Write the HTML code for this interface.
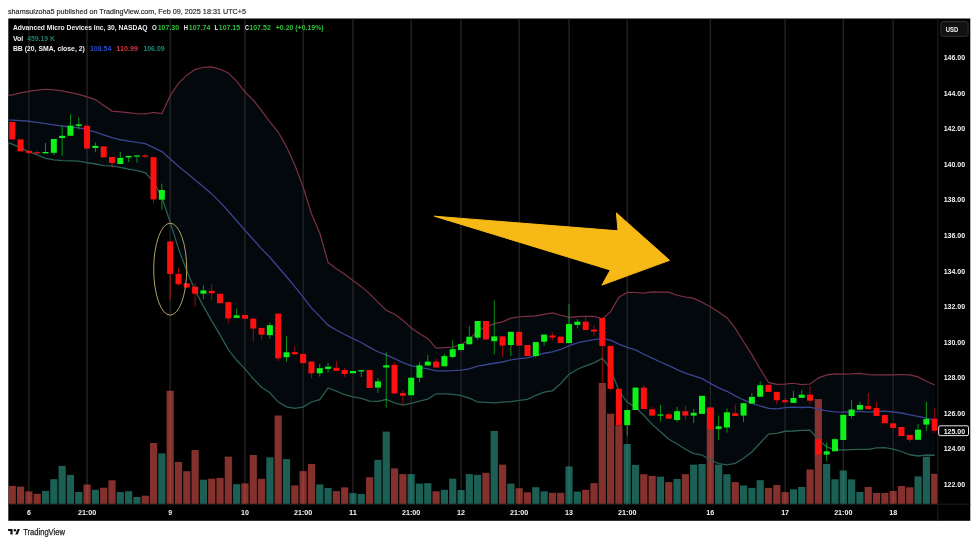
<!DOCTYPE html>
<html><head><meta charset="utf-8"><title>AMD chart</title>
<style>
html,body{margin:0;padding:0;background:#fff;}
body{width:979px;height:545px;position:relative;overflow:hidden;}
.ax{font-family:"Liberation Sans",sans-serif;font-size:7.5px;font-weight:bold;fill:#f4f4f4;}
.lg{font-family:"Liberation Sans",sans-serif;font-size:7.6px;font-weight:bold;fill:#f0f0f0;}
.hd{font-family:"Liberation Sans",sans-serif;font-size:7.6px;fill:#222;stroke:#222;stroke-width:0.15px;}
.lo{font-family:"Liberation Sans",sans-serif;font-size:8.2px;fill:#1e1e1e;stroke:#1e1e1e;stroke-width:0.25px;}
.gn{fill:#2fc23a;}
.tl{fill:#1d7f6e;}
.bl{fill:#2a4cc8;}
.rd{fill:#d2343f;}
.tg{fill:#12907a;}
</style></head><body>
<svg width="979" height="545" viewBox="0 0 979 545" style="position:absolute;left:0;top:0">
<rect x="8.3" y="18.5" width="962" height="502.3" fill="#000"/>
<defs><clipPath id="pane"><rect x="8.3" y="18.5" width="929.5" height="485.7"/></clipPath></defs>
<g clip-path="url(#pane)">
<path d="M8.3 95.68 L12.28 94.79 L20.59 92.94 L28.9 91.3 L37.21 90.21 L45.52 89.25 L53.83 89.96 L62.14 90.79 L70.45 92.62 L78.76 94.45 L87.07 96.86 L95.38 99.6 L103.69 105.43 L112 111.06 L120.31 111.81 L128.62 112.56 L136.93 113.73 L145.24 113.97 L153.55 112.37 L161.86 113.6 L170.17 95.77 L178.48 83.44 L186.79 75.19 L195.1 69.56 L203.41 67.24 L211.72 66.9 L220.03 69.28 L228.34 72.9 L236.65 81.15 L244.96 91.98 L253.27 100.04 L261.58 110.53 L269.89 121.81 L278.2 132 L286.51 146.65 L294.82 164.95 L303.13 187.03 L311.44 213.8 L319.75 233.02 L328.06 262.36 L336.37 268.84 L344.68 274.26 L352.99 280.51 L361.3 286.65 L369.61 293.58 L377.92 302.15 L386.23 310.28 L394.54 314.32 L402.85 320.25 L411.16 327.86 L419.47 333.74 L427.78 338.44 L436.09 348.03 L444.4 347.66 L452.71 346.98 L461.02 344.65 L469.33 339.58 L477.64 330.42 L485.95 327.16 L494.26 323.69 L502.57 321.87 L510.88 318.11 L519.19 316.73 L527.5 316.35 L535.81 315.93 L544.12 314.44 L552.43 312.88 L560.74 315.24 L569.05 317.29 L577.36 316.67 L585.67 316.43 L593.98 316.46 L602.29 318.91 L610.6 311.61 L618.91 297.25 L627.22 292.43 L635.53 292.51 L643.84 293.08 L652.15 291.79 L660.46 292.16 L668.77 292.08 L677.08 295.22 L685.39 297 L693.7 298.39 L702.01 302.24 L710.32 306.74 L718.63 312.04 L726.94 317.7 L735.25 328.45 L743.56 341.73 L751.87 354.67 L760.18 368.97 L768.49 382.46 L776.8 384.3 L785.11 384.19 L793.42 383.24 L801.73 384.58 L810.04 383.99 L818.35 378.12 L826.66 374.9 L834.97 373.97 L843.28 374.13 L851.59 373.85 L859.9 373.35 L868.21 374.67 L876.52 374.8 L884.83 374.87 L893.14 374.93 L901.45 374.49 L909.76 374.9 L918.07 376.93 L926.38 381.32 L934.69 384.95 L934.69 455.24 L926.38 455 L918.07 456 L909.76 454.75 L901.45 451.5 L893.14 449.06 L884.83 447.56 L876.52 447.94 L868.21 449.4 L859.9 449.38 L851.59 449.66 L843.28 449.99 L834.97 449.79 L826.66 446.81 L818.35 439.91 L810.04 430.14 L801.73 430.38 L793.42 431.01 L785.11 431.26 L776.8 433.45 L768.49 434.15 L760.18 443.04 L751.87 451.97 L743.56 458.21 L735.25 463.34 L726.94 464.88 L718.63 463.62 L710.32 460.03 L702.01 455.06 L693.7 453.54 L685.39 449.25 L677.08 444.03 L668.77 439.23 L660.46 431.84 L652.15 424.4 L643.84 415.5 L635.53 407.27 L627.22 402.27 L618.91 390.84 L610.6 368.88 L602.29 358.31 L593.98 362.92 L585.67 365.96 L577.36 369.26 L569.05 374.24 L560.74 383.46 L552.43 390.86 L544.12 392.08 L535.81 395.27 L527.5 399.44 L519.19 400.48 L510.88 401.64 L502.57 402.1 L494.26 402.8 L485.95 402.36 L477.64 401.97 L469.33 398.04 L461.02 395.6 L452.71 394.31 L444.4 393.94 L436.09 393.79 L427.78 399.15 L419.47 401.16 L411.16 403.36 L402.85 405.08 L394.54 402.97 L386.23 399.5 L377.92 401.42 L369.61 401.18 L361.3 398.35 L352.99 396.84 L344.68 394.74 L336.37 391.18 L328.06 387.97 L319.75 399.64 L311.44 401.98 L303.13 407.08 L294.82 408.39 L286.51 406.85 L278.2 402.06 L269.89 392.72 L261.58 387.22 L253.27 378.83 L244.96 368.9 L236.65 360.29 L228.34 349.58 L220.03 334.94 L211.72 320.9 L203.41 306.43 L195.1 290.41 L186.79 270.7 L178.48 248.84 L170.17 222.03 L161.86 197.43 L153.55 181.78 L145.24 172.67 L136.93 170.52 L128.62 169.02 L120.31 167.41 L112 165.88 L103.69 165.66 L95.38 163.99 L87.07 162.52 L78.76 161.17 L70.45 160.94 L62.14 160.56 L53.83 159.88 L45.52 158.32 L37.21 154.82 L28.9 151.81 L20.59 147.82 L12.28 144.04 L8.3 142.8 Z" fill="#02080c"/>
<line x1="28.9" y1="18.5" x2="28.9" y2="504.2" stroke="#262626" stroke-width="1.3"/>
<line x1="87.07" y1="18.5" x2="87.07" y2="504.2" stroke="#262626" stroke-width="1.3"/>
<line x1="170.17" y1="18.5" x2="170.17" y2="504.2" stroke="#262626" stroke-width="1.3"/>
<line x1="244.96" y1="18.5" x2="244.96" y2="504.2" stroke="#262626" stroke-width="1.3"/>
<line x1="303.13" y1="18.5" x2="303.13" y2="504.2" stroke="#262626" stroke-width="1.3"/>
<line x1="352.99" y1="18.5" x2="352.99" y2="504.2" stroke="#262626" stroke-width="1.3"/>
<line x1="411.16" y1="18.5" x2="411.16" y2="504.2" stroke="#262626" stroke-width="1.3"/>
<line x1="461.02" y1="18.5" x2="461.02" y2="504.2" stroke="#262626" stroke-width="1.3"/>
<line x1="519.19" y1="18.5" x2="519.19" y2="504.2" stroke="#262626" stroke-width="1.3"/>
<line x1="569.05" y1="18.5" x2="569.05" y2="504.2" stroke="#262626" stroke-width="1.3"/>
<line x1="627.22" y1="18.5" x2="627.22" y2="504.2" stroke="#262626" stroke-width="1.3"/>
<line x1="710.32" y1="18.5" x2="710.32" y2="504.2" stroke="#262626" stroke-width="1.3"/>
<line x1="785.11" y1="18.5" x2="785.11" y2="504.2" stroke="#262626" stroke-width="1.3"/>
<line x1="843.28" y1="18.5" x2="843.28" y2="504.2" stroke="#262626" stroke-width="1.3"/>
<line x1="893.14" y1="18.5" x2="893.14" y2="504.2" stroke="#262626" stroke-width="1.3"/>
<rect x="8.68" y="485.9" width="7.2" height="18.3" fill="rgba(240,88,82,0.55)"/>
<rect x="16.99" y="486.6" width="7.2" height="17.6" fill="rgba(240,88,82,0.55)"/>
<rect x="25.3" y="491.4" width="7.2" height="12.8" fill="rgba(240,88,82,0.55)"/>
<rect x="33.61" y="493.8" width="7.2" height="10.4" fill="rgba(240,88,82,0.55)"/>
<rect x="41.92" y="490.9" width="7.2" height="13.3" fill="rgba(49,173,155,0.55)"/>
<rect x="50.23" y="479.2" width="7.2" height="25" fill="rgba(49,173,155,0.55)"/>
<rect x="58.54" y="465.9" width="7.2" height="38.3" fill="rgba(49,173,155,0.55)"/>
<rect x="66.85" y="474.9" width="7.2" height="29.3" fill="rgba(49,173,155,0.55)"/>
<rect x="75.16" y="492" width="7.2" height="12.2" fill="rgba(49,173,155,0.55)"/>
<rect x="83.47" y="484.5" width="7.2" height="19.7" fill="rgba(240,88,82,0.55)"/>
<rect x="91.78" y="489.8" width="7.2" height="14.4" fill="rgba(49,173,155,0.55)"/>
<rect x="100.09" y="487.7" width="7.2" height="16.5" fill="rgba(240,88,82,0.55)"/>
<rect x="108.4" y="480.3" width="7.2" height="23.9" fill="rgba(240,88,82,0.55)"/>
<rect x="116.71" y="492" width="7.2" height="12.2" fill="rgba(49,173,155,0.55)"/>
<rect x="125.02" y="491.2" width="7.2" height="13" fill="rgba(49,173,155,0.55)"/>
<rect x="133.33" y="497" width="7.2" height="7.2" fill="rgba(49,173,155,0.55)"/>
<rect x="141.64" y="495.7" width="7.2" height="8.5" fill="rgba(240,88,82,0.55)"/>
<rect x="149.95" y="443" width="7.2" height="61.2" fill="rgba(240,88,82,0.55)"/>
<rect x="158.26" y="453.4" width="7.2" height="50.8" fill="rgba(49,173,155,0.55)"/>
<rect x="166.57" y="390.8" width="7.2" height="113.4" fill="rgba(240,88,82,0.55)"/>
<rect x="174.88" y="461.9" width="7.2" height="42.3" fill="rgba(240,88,82,0.55)"/>
<rect x="183.19" y="471.2" width="7.2" height="33" fill="rgba(240,88,82,0.55)"/>
<rect x="191.5" y="450" width="7.2" height="54.2" fill="rgba(240,88,82,0.55)"/>
<rect x="199.81" y="479.7" width="7.2" height="24.5" fill="rgba(49,173,155,0.55)"/>
<rect x="208.12" y="478.7" width="7.2" height="25.5" fill="rgba(240,88,82,0.55)"/>
<rect x="216.43" y="477.9" width="7.2" height="26.3" fill="rgba(240,88,82,0.55)"/>
<rect x="224.74" y="456.6" width="7.2" height="47.6" fill="rgba(240,88,82,0.55)"/>
<rect x="233.05" y="484.2" width="7.2" height="20" fill="rgba(49,173,155,0.55)"/>
<rect x="241.36" y="483.4" width="7.2" height="20.8" fill="rgba(240,88,82,0.55)"/>
<rect x="249.67" y="455" width="7.2" height="49.2" fill="rgba(240,88,82,0.55)"/>
<rect x="257.98" y="478.8" width="7.2" height="25.4" fill="rgba(240,88,82,0.55)"/>
<rect x="266.29" y="457.3" width="7.2" height="46.9" fill="rgba(49,173,155,0.55)"/>
<rect x="274.6" y="415.5" width="7.2" height="88.7" fill="rgba(240,88,82,0.55)"/>
<rect x="282.91" y="459.1" width="7.2" height="45.1" fill="rgba(49,173,155,0.55)"/>
<rect x="291.22" y="485.4" width="7.2" height="18.8" fill="rgba(240,88,82,0.55)"/>
<rect x="299.53" y="471.1" width="7.2" height="33.1" fill="rgba(240,88,82,0.55)"/>
<rect x="307.84" y="463.9" width="7.2" height="40.3" fill="rgba(240,88,82,0.55)"/>
<rect x="316.15" y="484.4" width="7.2" height="19.8" fill="rgba(49,173,155,0.55)"/>
<rect x="324.46" y="488" width="7.2" height="16.2" fill="rgba(49,173,155,0.55)"/>
<rect x="332.77" y="491.1" width="7.2" height="13.1" fill="rgba(240,88,82,0.55)"/>
<rect x="341.08" y="487.4" width="7.2" height="16.8" fill="rgba(240,88,82,0.55)"/>
<rect x="349.39" y="493.1" width="7.2" height="11.1" fill="rgba(49,173,155,0.55)"/>
<rect x="357.7" y="494" width="7.2" height="10.2" fill="rgba(49,173,155,0.55)"/>
<rect x="366.01" y="477.2" width="7.2" height="27" fill="rgba(240,88,82,0.55)"/>
<rect x="374.32" y="459.8" width="7.2" height="44.4" fill="rgba(49,173,155,0.55)"/>
<rect x="382.63" y="431.6" width="7.2" height="72.6" fill="rgba(49,173,155,0.55)"/>
<rect x="390.94" y="468.4" width="7.2" height="35.8" fill="rgba(240,88,82,0.55)"/>
<rect x="399.25" y="474.1" width="7.2" height="30.1" fill="rgba(240,88,82,0.55)"/>
<rect x="407.56" y="474.1" width="7.2" height="30.1" fill="rgba(49,173,155,0.55)"/>
<rect x="415.87" y="483.6" width="7.2" height="20.6" fill="rgba(49,173,155,0.55)"/>
<rect x="424.18" y="483.2" width="7.2" height="21" fill="rgba(49,173,155,0.55)"/>
<rect x="432.49" y="491.3" width="7.2" height="12.9" fill="rgba(240,88,82,0.55)"/>
<rect x="440.8" y="489.8" width="7.2" height="14.4" fill="rgba(49,173,155,0.55)"/>
<rect x="449.11" y="478.7" width="7.2" height="25.5" fill="rgba(49,173,155,0.55)"/>
<rect x="457.42" y="490" width="7.2" height="14.2" fill="rgba(49,173,155,0.55)"/>
<rect x="465.73" y="474.1" width="7.2" height="30.1" fill="rgba(49,173,155,0.55)"/>
<rect x="474.04" y="474.9" width="7.2" height="29.3" fill="rgba(49,173,155,0.55)"/>
<rect x="482.35" y="472.8" width="7.2" height="31.4" fill="rgba(240,88,82,0.55)"/>
<rect x="490.66" y="430.9" width="7.2" height="73.3" fill="rgba(49,173,155,0.55)"/>
<rect x="498.97" y="464.6" width="7.2" height="39.6" fill="rgba(240,88,82,0.55)"/>
<rect x="507.28" y="483.6" width="7.2" height="20.6" fill="rgba(49,173,155,0.55)"/>
<rect x="515.59" y="488.2" width="7.2" height="16" fill="rgba(240,88,82,0.55)"/>
<rect x="523.9" y="492.3" width="7.2" height="11.9" fill="rgba(240,88,82,0.55)"/>
<rect x="532.21" y="487.2" width="7.2" height="17" fill="rgba(49,173,155,0.55)"/>
<rect x="540.52" y="491.3" width="7.2" height="12.9" fill="rgba(49,173,155,0.55)"/>
<rect x="548.83" y="492.8" width="7.2" height="11.4" fill="rgba(240,88,82,0.55)"/>
<rect x="557.14" y="492.8" width="7.2" height="11.4" fill="rgba(240,88,82,0.55)"/>
<rect x="565.45" y="466.4" width="7.2" height="37.8" fill="rgba(49,173,155,0.55)"/>
<rect x="573.76" y="491.6" width="7.2" height="12.6" fill="rgba(49,173,155,0.55)"/>
<rect x="582.07" y="489.8" width="7.2" height="14.4" fill="rgba(240,88,82,0.55)"/>
<rect x="590.38" y="483.1" width="7.2" height="21.1" fill="rgba(240,88,82,0.55)"/>
<rect x="598.69" y="382.9" width="7.2" height="121.3" fill="rgba(240,88,82,0.55)"/>
<rect x="607" y="413.7" width="7.2" height="90.5" fill="rgba(240,88,82,0.55)"/>
<rect x="615.31" y="425.3" width="7.2" height="78.9" fill="rgba(240,88,82,0.55)"/>
<rect x="623.62" y="444" width="7.2" height="60.2" fill="rgba(49,173,155,0.55)"/>
<rect x="631.93" y="464.9" width="7.2" height="39.3" fill="rgba(49,173,155,0.55)"/>
<rect x="640.24" y="474.2" width="7.2" height="30" fill="rgba(240,88,82,0.55)"/>
<rect x="648.55" y="475.9" width="7.2" height="28.3" fill="rgba(240,88,82,0.55)"/>
<rect x="656.86" y="476.6" width="7.2" height="27.6" fill="rgba(49,173,155,0.55)"/>
<rect x="665.17" y="482.1" width="7.2" height="22.1" fill="rgba(240,88,82,0.55)"/>
<rect x="673.48" y="479" width="7.2" height="25.2" fill="rgba(49,173,155,0.55)"/>
<rect x="681.79" y="474.2" width="7.2" height="30" fill="rgba(240,88,82,0.55)"/>
<rect x="690.1" y="464.7" width="7.2" height="39.5" fill="rgba(49,173,155,0.55)"/>
<rect x="698.41" y="464" width="7.2" height="40.2" fill="rgba(49,173,155,0.55)"/>
<rect x="706.72" y="407.4" width="7.2" height="96.8" fill="rgba(240,88,82,0.55)"/>
<rect x="715.03" y="464.7" width="7.2" height="39.5" fill="rgba(49,173,155,0.55)"/>
<rect x="723.34" y="474.2" width="7.2" height="30" fill="rgba(49,173,155,0.55)"/>
<rect x="731.65" y="482.1" width="7.2" height="22.1" fill="rgba(240,88,82,0.55)"/>
<rect x="739.96" y="485.5" width="7.2" height="18.7" fill="rgba(49,173,155,0.55)"/>
<rect x="748.27" y="487.9" width="7.2" height="16.3" fill="rgba(49,173,155,0.55)"/>
<rect x="756.58" y="480.2" width="7.2" height="24" fill="rgba(49,173,155,0.55)"/>
<rect x="764.89" y="487.9" width="7.2" height="16.3" fill="rgba(240,88,82,0.55)"/>
<rect x="773.2" y="485" width="7.2" height="19.2" fill="rgba(240,88,82,0.55)"/>
<rect x="781.51" y="492.1" width="7.2" height="12.1" fill="rgba(240,88,82,0.55)"/>
<rect x="789.82" y="489.3" width="7.2" height="14.9" fill="rgba(49,173,155,0.55)"/>
<rect x="798.13" y="486.9" width="7.2" height="17.3" fill="rgba(49,173,155,0.55)"/>
<rect x="806.44" y="469.5" width="7.2" height="34.7" fill="rgba(240,88,82,0.55)"/>
<rect x="814.75" y="399.1" width="7.2" height="105.1" fill="rgba(240,88,82,0.55)"/>
<rect x="823.06" y="464" width="7.2" height="40.2" fill="rgba(49,173,155,0.55)"/>
<rect x="831.37" y="479.3" width="7.2" height="24.9" fill="rgba(49,173,155,0.55)"/>
<rect x="839.68" y="470.5" width="7.2" height="33.7" fill="rgba(49,173,155,0.55)"/>
<rect x="847.99" y="479.4" width="7.2" height="24.8" fill="rgba(49,173,155,0.55)"/>
<rect x="856.3" y="492" width="7.2" height="12.2" fill="rgba(49,173,155,0.55)"/>
<rect x="864.61" y="486.9" width="7.2" height="17.3" fill="rgba(240,88,82,0.55)"/>
<rect x="872.92" y="492.9" width="7.2" height="11.3" fill="rgba(240,88,82,0.55)"/>
<rect x="881.23" y="492.9" width="7.2" height="11.3" fill="rgba(240,88,82,0.55)"/>
<rect x="889.54" y="491" width="7.2" height="13.2" fill="rgba(240,88,82,0.55)"/>
<rect x="897.85" y="486" width="7.2" height="18.2" fill="rgba(240,88,82,0.55)"/>
<rect x="906.16" y="487.3" width="7.2" height="16.9" fill="rgba(240,88,82,0.55)"/>
<rect x="914.47" y="476.4" width="7.2" height="27.8" fill="rgba(49,173,155,0.55)"/>
<rect x="922.78" y="456.7" width="7.2" height="47.5" fill="rgba(49,173,155,0.55)"/>
<rect x="931.09" y="473.8" width="7.2" height="30.4" fill="rgba(240,88,82,0.55)"/>
<path d="M8.3 95.68 L12.28 94.79 L20.59 92.94 L28.9 91.3 L37.21 90.21 L45.52 89.25 L53.83 89.96 L62.14 90.79 L70.45 92.62 L78.76 94.45 L87.07 96.86 L95.38 99.6 L103.69 105.43 L112 111.06 L120.31 111.81 L128.62 112.56 L136.93 113.73 L145.24 113.97 L153.55 112.37 L161.86 113.6 L170.17 95.77 L178.48 83.44 L186.79 75.19 L195.1 69.56 L203.41 67.24 L211.72 66.9 L220.03 69.28 L228.34 72.9 L236.65 81.15 L244.96 91.98 L253.27 100.04 L261.58 110.53 L269.89 121.81 L278.2 132 L286.51 146.65 L294.82 164.95 L303.13 187.03 L311.44 213.8 L319.75 233.02 L328.06 262.36 L336.37 268.84 L344.68 274.26 L352.99 280.51 L361.3 286.65 L369.61 293.58 L377.92 302.15 L386.23 310.28 L394.54 314.32 L402.85 320.25 L411.16 327.86 L419.47 333.74 L427.78 338.44 L436.09 348.03 L444.4 347.66 L452.71 346.98 L461.02 344.65 L469.33 339.58 L477.64 330.42 L485.95 327.16 L494.26 323.69 L502.57 321.87 L510.88 318.11 L519.19 316.73 L527.5 316.35 L535.81 315.93 L544.12 314.44 L552.43 312.88 L560.74 315.24 L569.05 317.29 L577.36 316.67 L585.67 316.43 L593.98 316.46 L602.29 318.91 L610.6 311.61 L618.91 297.25 L627.22 292.43 L635.53 292.51 L643.84 293.08 L652.15 291.79 L660.46 292.16 L668.77 292.08 L677.08 295.22 L685.39 297 L693.7 298.39 L702.01 302.24 L710.32 306.74 L718.63 312.04 L726.94 317.7 L735.25 328.45 L743.56 341.73 L751.87 354.67 L760.18 368.97 L768.49 382.46 L776.8 384.3 L785.11 384.19 L793.42 383.24 L801.73 384.58 L810.04 383.99 L818.35 378.12 L826.66 374.9 L834.97 373.97 L843.28 374.13 L851.59 373.85 L859.9 373.35 L868.21 374.67 L876.52 374.8 L884.83 374.87 L893.14 374.93 L901.45 374.49 L909.76 374.9 L918.07 376.93 L926.38 381.32 L934.69 384.95" fill="none" stroke="#7c3044" stroke-width="1.2"/>
<path d="M8.3 119.8 L12.28 120.06 L20.59 120.59 L28.9 121.27 L37.21 122.44 L45.52 123.61 L53.83 124.8 L62.14 126.01 L70.45 127.01 L78.76 127.87 L87.07 129.68 L95.38 132.13 L103.69 134.91 L112 137.7 L120.31 139.76 L128.62 141.11 L136.93 142.36 L145.24 143.62 L153.55 147.54 L161.86 151.55 L170.17 158.9 L178.48 166.14 L186.79 172.94 L195.1 179.98 L203.41 186.83 L211.72 193.9 L220.03 202.11 L228.34 211.24 L236.65 220.72 L244.96 230.44 L253.27 239.44 L261.58 248.88 L269.89 257.26 L278.2 267.03 L286.51 276.75 L294.82 286.67 L303.13 297.06 L311.44 307.89 L319.75 316.33 L328.06 325.17 L336.37 330.01 L344.68 334.5 L352.99 338.68 L361.3 342.5 L369.61 347.38 L377.92 351.78 L386.23 354.89 L394.54 358.64 L402.85 362.66 L411.16 365.61 L419.47 367.45 L427.78 368.8 L436.09 370.91 L444.4 370.8 L452.71 370.65 L461.02 370.12 L469.33 368.81 L477.64 366.19 L485.95 364.76 L494.26 363.25 L502.57 361.99 L510.88 359.88 L519.19 358.61 L527.5 357.9 L535.81 355.6 L544.12 353.26 L552.43 351.87 L560.74 349.35 L569.05 345.77 L577.36 342.97 L585.67 341.2 L593.98 339.69 L602.29 338.61 L610.6 340.24 L618.91 344.04 L627.22 347.35 L635.53 349.89 L643.84 354.29 L652.15 358.1 L660.46 362 L668.77 365.66 L677.08 369.62 L685.39 373.12 L693.7 375.97 L702.01 378.65 L710.32 383.39 L718.63 387.83 L726.94 391.29 L735.25 395.9 L743.56 399.97 L751.87 403.32 L760.18 406 L768.49 408.3 L776.8 408.87 L785.11 407.72 L793.42 407.12 L801.73 407.48 L810.04 407.06 L818.35 409.01 L826.66 410.85 L834.97 411.88 L843.28 412.06 L851.59 411.75 L859.9 411.36 L868.21 412.04 L876.52 411.37 L884.83 411.21 L893.14 412 L901.45 413 L909.76 414.82 L918.07 416.47 L926.38 418.16 L934.69 420.1" fill="none" stroke="#3a4592" stroke-width="1.3"/>
<path d="M8.3 142.8 L12.28 144.04 L20.59 147.82 L28.9 151.81 L37.21 154.82 L45.52 158.32 L53.83 159.88 L62.14 160.56 L70.45 160.94 L78.76 161.17 L87.07 162.52 L95.38 163.99 L103.69 165.66 L112 165.88 L120.31 167.41 L128.62 169.02 L136.93 170.52 L145.24 172.67 L153.55 181.78 L161.86 197.43 L170.17 222.03 L178.48 248.84 L186.79 270.7 L195.1 290.41 L203.41 306.43 L211.72 320.9 L220.03 334.94 L228.34 349.58 L236.65 360.29 L244.96 368.9 L253.27 378.83 L261.58 387.22 L269.89 392.72 L278.2 402.06 L286.51 406.85 L294.82 408.39 L303.13 407.08 L311.44 401.98 L319.75 399.64 L328.06 387.97 L336.37 391.18 L344.68 394.74 L352.99 396.84 L361.3 398.35 L369.61 401.18 L377.92 401.42 L386.23 399.5 L394.54 402.97 L402.85 405.08 L411.16 403.36 L419.47 401.16 L427.78 399.15 L436.09 393.79 L444.4 393.94 L452.71 394.31 L461.02 395.6 L469.33 398.04 L477.64 401.97 L485.95 402.36 L494.26 402.8 L502.57 402.1 L510.88 401.64 L519.19 400.48 L527.5 399.44 L535.81 395.27 L544.12 392.08 L552.43 390.86 L560.74 383.46 L569.05 374.24 L577.36 369.26 L585.67 365.96 L593.98 362.92 L602.29 358.31 L610.6 368.88 L618.91 390.84 L627.22 402.27 L635.53 407.27 L643.84 415.5 L652.15 424.4 L660.46 431.84 L668.77 439.23 L677.08 444.03 L685.39 449.25 L693.7 453.54 L702.01 455.06 L710.32 460.03 L718.63 463.62 L726.94 464.88 L735.25 463.34 L743.56 458.21 L751.87 451.97 L760.18 443.04 L768.49 434.15 L776.8 433.45 L785.11 431.26 L793.42 431.01 L801.73 430.38 L810.04 430.14 L818.35 439.91 L826.66 446.81 L834.97 449.79 L843.28 449.99 L851.59 449.66 L859.9 449.38 L868.21 449.4 L876.52 447.94 L884.83 447.56 L893.14 449.06 L901.45 451.5 L909.76 454.75 L918.07 456 L926.38 455 L934.69 455.24" fill="none" stroke="#2b5e50" stroke-width="1.3"/>
<rect x="9.28" y="122" width="6" height="17.4" fill="#ff1010"/>
<rect x="17.59" y="139.4" width="6" height="12" fill="#ff1010"/>
<line x1="28.9" y1="150.5" x2="28.9" y2="154" stroke="#ff1010" stroke-width="1" stroke-opacity="0.6"/>
<rect x="25.9" y="150.9" width="6" height="2" fill="#ff1010"/>
<line x1="37.21" y1="151" x2="37.21" y2="154" stroke="#ff1010" stroke-width="1" stroke-opacity="0.6"/>
<rect x="34.21" y="152.2" width="6" height="1.2" fill="#ff1010"/>
<line x1="45.52" y1="143" x2="45.52" y2="153.4" stroke="#0ef21a" stroke-width="1" stroke-opacity="0.6"/>
<rect x="42.52" y="152" width="6" height="1.4" fill="#0ef21a"/>
<line x1="53.83" y1="139" x2="53.83" y2="155" stroke="#0ef21a" stroke-width="1" stroke-opacity="0.6"/>
<rect x="50.83" y="139" width="6" height="13.8" fill="#0ef21a"/>
<line x1="62.14" y1="126.2" x2="62.14" y2="156" stroke="#0ef21a" stroke-width="1" stroke-opacity="0.6"/>
<rect x="59.14" y="135.8" width="6" height="2.2" fill="#0ef21a"/>
<line x1="70.45" y1="114.3" x2="70.45" y2="135.8" stroke="#0ef21a" stroke-width="1" stroke-opacity="0.6"/>
<rect x="67.45" y="125.7" width="6" height="10.1" fill="#0ef21a"/>
<line x1="78.76" y1="117.4" x2="78.76" y2="129.4" stroke="#0ef21a" stroke-width="1" stroke-opacity="0.6"/>
<rect x="75.76" y="124.4" width="6" height="1.5" fill="#0ef21a"/>
<rect x="84.07" y="125.7" width="6" height="22.9" fill="#ff1010"/>
<line x1="95.38" y1="142.6" x2="95.38" y2="152.3" stroke="#0ef21a" stroke-width="1" stroke-opacity="0.6"/>
<rect x="92.38" y="145.9" width="6" height="2.1" fill="#0ef21a"/>
<rect x="100.69" y="146.4" width="6" height="11" fill="#ff1010"/>
<line x1="112" y1="157" x2="112" y2="167.5" stroke="#ff1010" stroke-width="1" stroke-opacity="0.6"/>
<rect x="109" y="157" width="6" height="6" fill="#ff1010"/>
<line x1="120.31" y1="152" x2="120.31" y2="164" stroke="#0ef21a" stroke-width="1" stroke-opacity="0.6"/>
<rect x="117.31" y="157.9" width="6" height="6.1" fill="#0ef21a"/>
<line x1="128.62" y1="155.9" x2="128.62" y2="162" stroke="#0ef21a" stroke-width="1" stroke-opacity="0.6"/>
<rect x="125.62" y="155.9" width="6" height="1.5" fill="#0ef21a"/>
<line x1="136.93" y1="155.4" x2="136.93" y2="162.7" stroke="#0ef21a" stroke-width="1" stroke-opacity="0.6"/>
<rect x="133.93" y="155.4" width="6" height="1.2" fill="#0ef21a"/>
<line x1="145.24" y1="154.1" x2="145.24" y2="157.8" stroke="#ff1010" stroke-width="1" stroke-opacity="0.6"/>
<rect x="142.24" y="155.5" width="6" height="1.2" fill="#ff1010"/>
<line x1="153.55" y1="157" x2="153.55" y2="203.4" stroke="#ff1010" stroke-width="1" stroke-opacity="0.6"/>
<rect x="150.55" y="157.2" width="6" height="42.2" fill="#ff1010"/>
<line x1="161.86" y1="183.6" x2="161.86" y2="209.8" stroke="#0ef21a" stroke-width="1" stroke-opacity="0.6"/>
<rect x="158.86" y="190" width="6" height="9.7" fill="#0ef21a"/>
<line x1="170.17" y1="240.5" x2="170.17" y2="299.5" stroke="#ff1010" stroke-width="1" stroke-opacity="0.6"/>
<rect x="167.17" y="241.5" width="6" height="32.4" fill="#ff1010"/>
<line x1="178.48" y1="267.7" x2="178.48" y2="286" stroke="#ff1010" stroke-width="1" stroke-opacity="0.6"/>
<rect x="175.48" y="273.9" width="6" height="10.3" fill="#ff1010"/>
<rect x="183.79" y="283.3" width="6" height="4.2" fill="#ff1010"/>
<line x1="195.1" y1="282.7" x2="195.1" y2="306.9" stroke="#ff1010" stroke-width="1" stroke-opacity="0.6"/>
<rect x="192.1" y="286.7" width="6" height="7" fill="#ff1010"/>
<line x1="203.41" y1="285.5" x2="203.41" y2="299.2" stroke="#0ef21a" stroke-width="1" stroke-opacity="0.6"/>
<rect x="200.41" y="290.4" width="6" height="3.3" fill="#0ef21a"/>
<line x1="211.72" y1="284.2" x2="211.72" y2="300.3" stroke="#ff1010" stroke-width="1" stroke-opacity="0.6"/>
<rect x="208.72" y="290.8" width="6" height="2.5" fill="#ff1010"/>
<rect x="217.03" y="293.7" width="6" height="9.5" fill="#ff1010"/>
<line x1="228.34" y1="302.1" x2="228.34" y2="323.4" stroke="#ff1010" stroke-width="1" stroke-opacity="0.6"/>
<rect x="225.34" y="302.1" width="6" height="16.3" fill="#ff1010"/>
<line x1="236.65" y1="308.5" x2="236.65" y2="318" stroke="#0ef21a" stroke-width="1" stroke-opacity="0.6"/>
<rect x="233.65" y="315.3" width="6" height="2.6" fill="#0ef21a"/>
<rect x="241.96" y="315" width="6" height="3.8" fill="#ff1010"/>
<line x1="253.27" y1="318.6" x2="253.27" y2="341.1" stroke="#ff1010" stroke-width="1" stroke-opacity="0.6"/>
<rect x="250.27" y="318.6" width="6" height="9.9" fill="#ff1010"/>
<line x1="261.58" y1="327.9" x2="261.58" y2="339.6" stroke="#ff1010" stroke-width="1" stroke-opacity="0.6"/>
<rect x="258.58" y="327.9" width="6" height="6.8" fill="#ff1010"/>
<line x1="269.89" y1="322.6" x2="269.89" y2="338.9" stroke="#0ef21a" stroke-width="1" stroke-opacity="0.6"/>
<rect x="266.89" y="325.2" width="6" height="10" fill="#0ef21a"/>
<line x1="278.2" y1="313.6" x2="278.2" y2="360.9" stroke="#ff1010" stroke-width="1" stroke-opacity="0.6"/>
<rect x="275.2" y="313.6" width="6" height="44.7" fill="#ff1010"/>
<line x1="286.51" y1="336.3" x2="286.51" y2="361.6" stroke="#0ef21a" stroke-width="1" stroke-opacity="0.6"/>
<rect x="283.51" y="352.3" width="6" height="4.9" fill="#0ef21a"/>
<line x1="294.82" y1="346.2" x2="294.82" y2="354.3" stroke="#ff1010" stroke-width="1" stroke-opacity="0.6"/>
<rect x="291.82" y="352.1" width="6" height="2.2" fill="#ff1010"/>
<rect x="300.13" y="353.9" width="6" height="9.2" fill="#ff1010"/>
<line x1="311.44" y1="361.6" x2="311.44" y2="378.1" stroke="#ff1010" stroke-width="1" stroke-opacity="0.6"/>
<rect x="308.44" y="361.6" width="6" height="11.7" fill="#ff1010"/>
<line x1="319.75" y1="363.8" x2="319.75" y2="376.6" stroke="#0ef21a" stroke-width="1" stroke-opacity="0.6"/>
<rect x="316.75" y="368.2" width="6" height="5.1" fill="#0ef21a"/>
<line x1="328.06" y1="362.7" x2="328.06" y2="372.6" stroke="#0ef21a" stroke-width="1" stroke-opacity="0.6"/>
<rect x="325.06" y="366.7" width="6" height="2.2" fill="#0ef21a"/>
<line x1="336.37" y1="360.9" x2="336.37" y2="370.8" stroke="#ff1010" stroke-width="1" stroke-opacity="0.6"/>
<rect x="333.37" y="367.8" width="6" height="3" fill="#ff1010"/>
<line x1="344.68" y1="368.2" x2="344.68" y2="377" stroke="#ff1010" stroke-width="1" stroke-opacity="0.6"/>
<rect x="341.68" y="370" width="6" height="4" fill="#ff1010"/>
<rect x="349.99" y="371" width="6" height="2.3" fill="#0ef21a"/>
<line x1="361.3" y1="370" x2="361.3" y2="377" stroke="#0ef21a" stroke-width="1" stroke-opacity="0.6"/>
<rect x="358.3" y="370.2" width="6" height="1.3" fill="#0ef21a"/>
<rect x="366.61" y="370" width="6" height="18" fill="#ff1010"/>
<line x1="377.92" y1="378.1" x2="377.92" y2="393" stroke="#0ef21a" stroke-width="1" stroke-opacity="0.6"/>
<rect x="374.92" y="381.4" width="6" height="6.2" fill="#0ef21a"/>
<line x1="386.23" y1="352.1" x2="386.23" y2="407.8" stroke="#0ef21a" stroke-width="1" stroke-opacity="0.6"/>
<rect x="383.23" y="365.3" width="6" height="2.2" fill="#0ef21a"/>
<line x1="394.54" y1="362.7" x2="394.54" y2="393.5" stroke="#ff1010" stroke-width="1" stroke-opacity="0.6"/>
<rect x="391.54" y="364.9" width="6" height="28.6" fill="#ff1010"/>
<line x1="402.85" y1="390.2" x2="402.85" y2="405" stroke="#ff1010" stroke-width="1" stroke-opacity="0.6"/>
<rect x="399.85" y="393.1" width="6" height="2.6" fill="#ff1010"/>
<rect x="408.16" y="377.7" width="6" height="17.6" fill="#0ef21a"/>
<line x1="419.47" y1="362.2" x2="419.47" y2="382.1" stroke="#0ef21a" stroke-width="1" stroke-opacity="0.6"/>
<rect x="416.47" y="365.3" width="6" height="12.4" fill="#0ef21a"/>
<line x1="427.78" y1="355" x2="427.78" y2="365.5" stroke="#0ef21a" stroke-width="1" stroke-opacity="0.6"/>
<rect x="424.78" y="361.6" width="6" height="3.9" fill="#0ef21a"/>
<line x1="436.09" y1="358.9" x2="436.09" y2="367.5" stroke="#ff1010" stroke-width="1" stroke-opacity="0.6"/>
<rect x="433.09" y="361.6" width="6" height="5.9" fill="#ff1010"/>
<line x1="444.4" y1="353.9" x2="444.4" y2="366.3" stroke="#0ef21a" stroke-width="1" stroke-opacity="0.6"/>
<rect x="441.4" y="356.1" width="6" height="10.2" fill="#0ef21a"/>
<line x1="452.71" y1="340.3" x2="452.71" y2="358.3" stroke="#0ef21a" stroke-width="1" stroke-opacity="0.6"/>
<rect x="449.71" y="349.2" width="6" height="7.7" fill="#0ef21a"/>
<rect x="458.02" y="343.9" width="6" height="6.1" fill="#0ef21a"/>
<line x1="469.33" y1="325.8" x2="469.33" y2="344.3" stroke="#0ef21a" stroke-width="1" stroke-opacity="0.6"/>
<rect x="466.33" y="336.8" width="6" height="7.5" fill="#0ef21a"/>
<line x1="477.64" y1="321" x2="477.64" y2="339.9" stroke="#0ef21a" stroke-width="1" stroke-opacity="0.6"/>
<rect x="474.64" y="321" width="6" height="16.7" fill="#0ef21a"/>
<rect x="482.95" y="321" width="6" height="18.5" fill="#ff1010"/>
<line x1="494.26" y1="300.3" x2="494.26" y2="354.4" stroke="#0ef21a" stroke-width="1" stroke-opacity="0.6"/>
<rect x="491.26" y="336.4" width="6" height="4.8" fill="#0ef21a"/>
<line x1="502.57" y1="336.4" x2="502.57" y2="357.1" stroke="#ff1010" stroke-width="1" stroke-opacity="0.6"/>
<rect x="499.57" y="336.4" width="6" height="9.2" fill="#ff1010"/>
<line x1="510.88" y1="331.8" x2="510.88" y2="356" stroke="#0ef21a" stroke-width="1" stroke-opacity="0.6"/>
<rect x="507.88" y="331.8" width="6" height="13.2" fill="#0ef21a"/>
<rect x="516.19" y="331.8" width="6" height="13.8" fill="#ff1010"/>
<rect x="524.5" y="345" width="6" height="11" fill="#ff1010"/>
<line x1="535.81" y1="342.1" x2="535.81" y2="357.5" stroke="#0ef21a" stroke-width="1" stroke-opacity="0.6"/>
<rect x="532.81" y="342.1" width="6" height="13.9" fill="#0ef21a"/>
<line x1="544.12" y1="334.6" x2="544.12" y2="345.6" stroke="#0ef21a" stroke-width="1" stroke-opacity="0.6"/>
<rect x="541.12" y="334.6" width="6" height="7.1" fill="#0ef21a"/>
<line x1="552.43" y1="332.3" x2="552.43" y2="340.4" stroke="#ff1010" stroke-width="1" stroke-opacity="0.6"/>
<rect x="549.43" y="335.5" width="6" height="2" fill="#ff1010"/>
<rect x="557.74" y="336.6" width="6" height="6.5" fill="#ff1010"/>
<line x1="569.05" y1="304.1" x2="569.05" y2="343.1" stroke="#0ef21a" stroke-width="1" stroke-opacity="0.6"/>
<rect x="566.05" y="324" width="6" height="19.1" fill="#0ef21a"/>
<line x1="577.36" y1="319" x2="577.36" y2="328.4" stroke="#0ef21a" stroke-width="1" stroke-opacity="0.6"/>
<rect x="574.36" y="321.7" width="6" height="3.2" fill="#0ef21a"/>
<line x1="585.67" y1="316.7" x2="585.67" y2="329.9" stroke="#ff1010" stroke-width="1" stroke-opacity="0.6"/>
<rect x="582.67" y="321.7" width="6" height="8.2" fill="#ff1010"/>
<line x1="593.98" y1="325.6" x2="593.98" y2="335.8" stroke="#ff1010" stroke-width="1" stroke-opacity="0.6"/>
<rect x="590.98" y="329.6" width="6" height="1.9" fill="#ff1010"/>
<line x1="602.29" y1="318" x2="602.29" y2="382.6" stroke="#ff1010" stroke-width="1" stroke-opacity="0.6"/>
<rect x="599.29" y="318" width="6" height="27.9" fill="#ff1010"/>
<line x1="610.6" y1="345.9" x2="610.6" y2="390.9" stroke="#ff1010" stroke-width="1" stroke-opacity="0.6"/>
<rect x="607.6" y="345.9" width="6" height="42.9" fill="#ff1010"/>
<rect x="615.91" y="388.8" width="6" height="36.4" fill="#ff1010"/>
<line x1="627.22" y1="410" x2="627.22" y2="435.5" stroke="#0ef21a" stroke-width="1" stroke-opacity="0.6"/>
<rect x="624.22" y="410" width="6" height="15.2" fill="#0ef21a"/>
<rect x="632.53" y="387.6" width="6" height="22.4" fill="#0ef21a"/>
<line x1="643.84" y1="385" x2="643.84" y2="409" stroke="#ff1010" stroke-width="1" stroke-opacity="0.6"/>
<rect x="640.84" y="387.6" width="6" height="21.4" fill="#ff1010"/>
<line x1="652.15" y1="406.8" x2="652.15" y2="415.6" stroke="#ff1010" stroke-width="1" stroke-opacity="0.6"/>
<rect x="649.15" y="409.3" width="6" height="6.3" fill="#ff1010"/>
<line x1="660.46" y1="405" x2="660.46" y2="421.6" stroke="#0ef21a" stroke-width="1" stroke-opacity="0.6"/>
<rect x="657.46" y="414.5" width="6" height="1.2" fill="#0ef21a"/>
<line x1="668.77" y1="412.8" x2="668.77" y2="418.7" stroke="#ff1010" stroke-width="1" stroke-opacity="0.6"/>
<rect x="665.77" y="414.3" width="6" height="4.4" fill="#ff1010"/>
<line x1="677.08" y1="406.8" x2="677.08" y2="422.2" stroke="#0ef21a" stroke-width="1" stroke-opacity="0.6"/>
<rect x="674.08" y="411.2" width="6" height="8.8" fill="#0ef21a"/>
<line x1="685.39" y1="405.5" x2="685.39" y2="420.5" stroke="#ff1010" stroke-width="1" stroke-opacity="0.6"/>
<rect x="682.39" y="411.2" width="6" height="4.4" fill="#ff1010"/>
<line x1="693.7" y1="409" x2="693.7" y2="423.1" stroke="#0ef21a" stroke-width="1" stroke-opacity="0.6"/>
<rect x="690.7" y="412.8" width="6" height="2.8" fill="#0ef21a"/>
<rect x="699.01" y="395.8" width="6" height="18.1" fill="#0ef21a"/>
<rect x="707.32" y="407.7" width="6" height="21.6" fill="#ff1010"/>
<line x1="718.63" y1="415.6" x2="718.63" y2="439.9" stroke="#0ef21a" stroke-width="1" stroke-opacity="0.6"/>
<rect x="715.63" y="426.4" width="6" height="2.5" fill="#0ef21a"/>
<line x1="726.94" y1="408.4" x2="726.94" y2="432.6" stroke="#0ef21a" stroke-width="1" stroke-opacity="0.6"/>
<rect x="723.94" y="412.3" width="6" height="15.2" fill="#0ef21a"/>
<line x1="735.25" y1="404.6" x2="735.25" y2="416.1" stroke="#ff1010" stroke-width="1" stroke-opacity="0.6"/>
<rect x="732.25" y="413.2" width="6" height="2.9" fill="#ff1010"/>
<line x1="743.56" y1="403.2" x2="743.56" y2="422.2" stroke="#0ef21a" stroke-width="1" stroke-opacity="0.6"/>
<rect x="740.56" y="403.2" width="6" height="12.4" fill="#0ef21a"/>
<line x1="751.87" y1="393" x2="751.87" y2="403.5" stroke="#0ef21a" stroke-width="1" stroke-opacity="0.6"/>
<rect x="748.87" y="396.9" width="6" height="6.6" fill="#0ef21a"/>
<line x1="760.18" y1="381.3" x2="760.18" y2="396.7" stroke="#0ef21a" stroke-width="1" stroke-opacity="0.6"/>
<rect x="757.18" y="385.2" width="6" height="11.5" fill="#0ef21a"/>
<rect x="765.49" y="384.8" width="6" height="7.1" fill="#ff1010"/>
<line x1="776.8" y1="391.9" x2="776.8" y2="404" stroke="#ff1010" stroke-width="1" stroke-opacity="0.6"/>
<rect x="773.8" y="391.9" width="6" height="8.3" fill="#ff1010"/>
<line x1="785.11" y1="398" x2="785.11" y2="402.2" stroke="#ff1010" stroke-width="1" stroke-opacity="0.6"/>
<rect x="782.11" y="400.2" width="6" height="2" fill="#ff1010"/>
<line x1="793.42" y1="390.7" x2="793.42" y2="402.9" stroke="#0ef21a" stroke-width="1" stroke-opacity="0.6"/>
<rect x="790.42" y="398" width="6" height="4.9" fill="#0ef21a"/>
<line x1="801.73" y1="390.1" x2="801.73" y2="397.8" stroke="#0ef21a" stroke-width="1" stroke-opacity="0.6"/>
<rect x="798.73" y="394.7" width="6" height="3.1" fill="#0ef21a"/>
<line x1="810.04" y1="385.7" x2="810.04" y2="404" stroke="#ff1010" stroke-width="1" stroke-opacity="0.6"/>
<rect x="807.04" y="394.7" width="6" height="6" fill="#ff1010"/>
<rect x="815.35" y="439.2" width="6" height="15.4" fill="#ff1010"/>
<line x1="826.66" y1="442.5" x2="826.66" y2="461.2" stroke="#0ef21a" stroke-width="1" stroke-opacity="0.6"/>
<rect x="823.66" y="451.3" width="6" height="3.3" fill="#0ef21a"/>
<line x1="834.97" y1="437.7" x2="834.97" y2="451.3" stroke="#0ef21a" stroke-width="1" stroke-opacity="0.6"/>
<rect x="831.97" y="439.2" width="6" height="12.1" fill="#0ef21a"/>
<rect x="840.28" y="414.8" width="6" height="25.2" fill="#0ef21a"/>
<line x1="851.59" y1="399.8" x2="851.59" y2="418.3" stroke="#0ef21a" stroke-width="1" stroke-opacity="0.6"/>
<rect x="848.59" y="409.5" width="6" height="6.5" fill="#0ef21a"/>
<line x1="859.9" y1="401.8" x2="859.9" y2="409.7" stroke="#0ef21a" stroke-width="1" stroke-opacity="0.6"/>
<rect x="856.9" y="405" width="6" height="4.7" fill="#0ef21a"/>
<line x1="868.21" y1="393" x2="868.21" y2="409.2" stroke="#ff1010" stroke-width="1" stroke-opacity="0.6"/>
<rect x="865.21" y="405.9" width="6" height="3.3" fill="#ff1010"/>
<line x1="876.52" y1="401.8" x2="876.52" y2="416" stroke="#ff1010" stroke-width="1" stroke-opacity="0.6"/>
<rect x="873.52" y="408.1" width="6" height="7.9" fill="#ff1010"/>
<rect x="881.83" y="415" width="6" height="8.3" fill="#ff1010"/>
<rect x="890.14" y="423.3" width="6" height="4.6" fill="#ff1010"/>
<rect x="898.45" y="427" width="6" height="9.1" fill="#ff1010"/>
<line x1="909.76" y1="434.9" x2="909.76" y2="442.2" stroke="#ff1010" stroke-width="1" stroke-opacity="0.6"/>
<rect x="906.76" y="434.9" width="6" height="4.9" fill="#ff1010"/>
<line x1="918.07" y1="423.9" x2="918.07" y2="439.8" stroke="#0ef21a" stroke-width="1" stroke-opacity="0.6"/>
<rect x="915.07" y="429.7" width="6" height="10.1" fill="#0ef21a"/>
<line x1="926.38" y1="401.8" x2="926.38" y2="431.2" stroke="#0ef21a" stroke-width="1" stroke-opacity="0.6"/>
<rect x="923.38" y="419.1" width="6" height="5.5" fill="#0ef21a"/>
<line x1="934.69" y1="408.1" x2="934.69" y2="433" stroke="#ff1010" stroke-width="1" stroke-opacity="0.6"/>
<rect x="931.69" y="418.7" width="6" height="11.9" fill="#ff1010"/>
<ellipse cx="170.2" cy="269.2" rx="16.5" ry="46" fill="none" stroke="#b0a162" stroke-width="1"/>
<path d="M434.3 216.2 L618 230.8 L616.4 212.9 L669.6 260.3 L602 285.1 L610.3 270 Z" fill="#f7b915" stroke="#f7b915" stroke-width="1" stroke-linejoin="round"/>
</g>
<line x1="937.8" y1="18.5" x2="937.8" y2="520.8" stroke="#1e1e1e" stroke-width="1"/>
<line x1="8.3" y1="504.2" x2="970.3" y2="504.2" stroke="#1e1e1e" stroke-width="1"/>
<text x="943.7" y="60.3" class="ax" textLength="21.4" lengthAdjust="spacingAndGlyphs">146.00</text>
<text x="943.7" y="95.84" class="ax" textLength="21.4" lengthAdjust="spacingAndGlyphs">144.00</text>
<text x="943.7" y="131.38" class="ax" textLength="21.4" lengthAdjust="spacingAndGlyphs">142.00</text>
<text x="943.7" y="166.92" class="ax" textLength="21.4" lengthAdjust="spacingAndGlyphs">140.00</text>
<text x="943.7" y="202.46" class="ax" textLength="21.4" lengthAdjust="spacingAndGlyphs">138.00</text>
<text x="943.7" y="238" class="ax" textLength="21.4" lengthAdjust="spacingAndGlyphs">136.00</text>
<text x="943.7" y="273.54" class="ax" textLength="21.4" lengthAdjust="spacingAndGlyphs">134.00</text>
<text x="943.7" y="309.08" class="ax" textLength="21.4" lengthAdjust="spacingAndGlyphs">132.00</text>
<text x="943.7" y="344.62" class="ax" textLength="21.4" lengthAdjust="spacingAndGlyphs">130.00</text>
<text x="943.7" y="380.16" class="ax" textLength="21.4" lengthAdjust="spacingAndGlyphs">128.00</text>
<text x="943.7" y="415.7" class="ax" textLength="21.4" lengthAdjust="spacingAndGlyphs">126.00</text>
<text x="943.7" y="451.24" class="ax" textLength="21.4" lengthAdjust="spacingAndGlyphs">124.00</text>
<text x="943.7" y="486.78" class="ax" textLength="21.4" lengthAdjust="spacingAndGlyphs">122.00</text>
<rect x="938.7" y="425.8" width="29.8" height="9.8" rx="1.5" fill="#000" stroke="#e8e8e8" stroke-width="1"/>
<text x="943.7" y="433.6" class="ax" textLength="21.4" lengthAdjust="spacingAndGlyphs">125.00</text>
<rect x="940.8" y="21.5" width="27.3" height="14.8" rx="2" fill="#121212" stroke="#303030" stroke-width="1"/>
<text x="945.7" y="31.7" class="ax" textLength="12.5" lengthAdjust="spacingAndGlyphs">USD</text>
<text x="26.95" y="515.2" class="ax" textLength="3.9" lengthAdjust="spacingAndGlyphs">6</text>
<text x="77.92" y="515.2" class="ax" textLength="18.3" lengthAdjust="spacingAndGlyphs">21:00</text>
<text x="168.22" y="515.2" class="ax" textLength="3.9" lengthAdjust="spacingAndGlyphs">9</text>
<text x="241.01" y="515.2" class="ax" textLength="7.9" lengthAdjust="spacingAndGlyphs">10</text>
<text x="293.98" y="515.2" class="ax" textLength="18.3" lengthAdjust="spacingAndGlyphs">21:00</text>
<text x="349.04" y="515.2" class="ax" textLength="7.9" lengthAdjust="spacingAndGlyphs">11</text>
<text x="402.01" y="515.2" class="ax" textLength="18.3" lengthAdjust="spacingAndGlyphs">21:00</text>
<text x="457.07" y="515.2" class="ax" textLength="7.9" lengthAdjust="spacingAndGlyphs">12</text>
<text x="510.04" y="515.2" class="ax" textLength="18.3" lengthAdjust="spacingAndGlyphs">21:00</text>
<text x="565.1" y="515.2" class="ax" textLength="7.9" lengthAdjust="spacingAndGlyphs">13</text>
<text x="618.07" y="515.2" class="ax" textLength="18.3" lengthAdjust="spacingAndGlyphs">21:00</text>
<text x="706.37" y="515.2" class="ax" textLength="7.9" lengthAdjust="spacingAndGlyphs">16</text>
<text x="781.16" y="515.2" class="ax" textLength="7.9" lengthAdjust="spacingAndGlyphs">17</text>
<text x="834.13" y="515.2" class="ax" textLength="18.3" lengthAdjust="spacingAndGlyphs">21:00</text>
<text x="889.19" y="515.2" class="ax" textLength="7.9" lengthAdjust="spacingAndGlyphs">18</text>
<text x="12.9" y="30.1" class="lg" textLength="134.6" lengthAdjust="spacingAndGlyphs">Advanced Micro Devices Inc, 30, NASDAQ</text>
<text x="152.1" y="30.1" class="lg" textLength="4.8" lengthAdjust="spacingAndGlyphs">O</text>
<text x="157.7" y="30.1" class="lg gn" textLength="21.5" lengthAdjust="spacingAndGlyphs">107.30</text>
<text x="183.8" y="30.1" class="lg" textLength="4.2" lengthAdjust="spacingAndGlyphs">H</text>
<text x="188.7" y="30.1" class="lg gn" textLength="21.7" lengthAdjust="spacingAndGlyphs">107.74</text>
<text x="214.5" y="30.1" class="lg" textLength="3.7" lengthAdjust="spacingAndGlyphs">L</text>
<text x="218.8" y="30.1" class="lg gn" textLength="21.2" lengthAdjust="spacingAndGlyphs">107.15</text>
<text x="244.9" y="30.1" class="lg" textLength="3.9" lengthAdjust="spacingAndGlyphs">C</text>
<text x="249.3" y="30.1" class="lg gn" textLength="21.5" lengthAdjust="spacingAndGlyphs">107.52</text>
<text x="275.8" y="30.1" class="lg gn" textLength="47.9" lengthAdjust="spacingAndGlyphs">+0.20 (+0.19%)</text>
<text x="12.9" y="40.6" class="lg" textLength="10.4" lengthAdjust="spacingAndGlyphs">Vol</text>
<text x="27.2" y="40.6" class="lg tl" textLength="27.7" lengthAdjust="spacingAndGlyphs">459.19 K</text>
<text x="12.9" y="51.2" class="lg" textLength="71.9" lengthAdjust="spacingAndGlyphs">BB (20, SMA, close, 2)</text>
<text x="90" y="51.2" class="lg bl" textLength="21.3" lengthAdjust="spacingAndGlyphs">108.54</text>
<text x="116.3" y="51.2" class="lg rd" textLength="21.7" lengthAdjust="spacingAndGlyphs">110.99</text>
<text x="143.4" y="51.2" class="lg tg" textLength="21.2" lengthAdjust="spacingAndGlyphs">106.09</text>
<text x="8" y="13.8" class="hd" textLength="238" lengthAdjust="spacingAndGlyphs">shamsulzoha5 published on TradingView.com, Feb 09, 2025 18:31 UTC+5</text>
<g fill="#111"><path d="M8.1 529.1 H12.6 V534.6 H10.4 V531.0 H8.1 Z"/><circle cx="14.9" cy="530.2" r="1.2"/><path d="M17.5 529.1 H19.9 L17.7 534.6 H15.3 Z"/></g>
<text x="23.2" y="534.9" class="lo" textLength="41.7" lengthAdjust="spacingAndGlyphs">TradingView</text>
</svg>
</body></html>
